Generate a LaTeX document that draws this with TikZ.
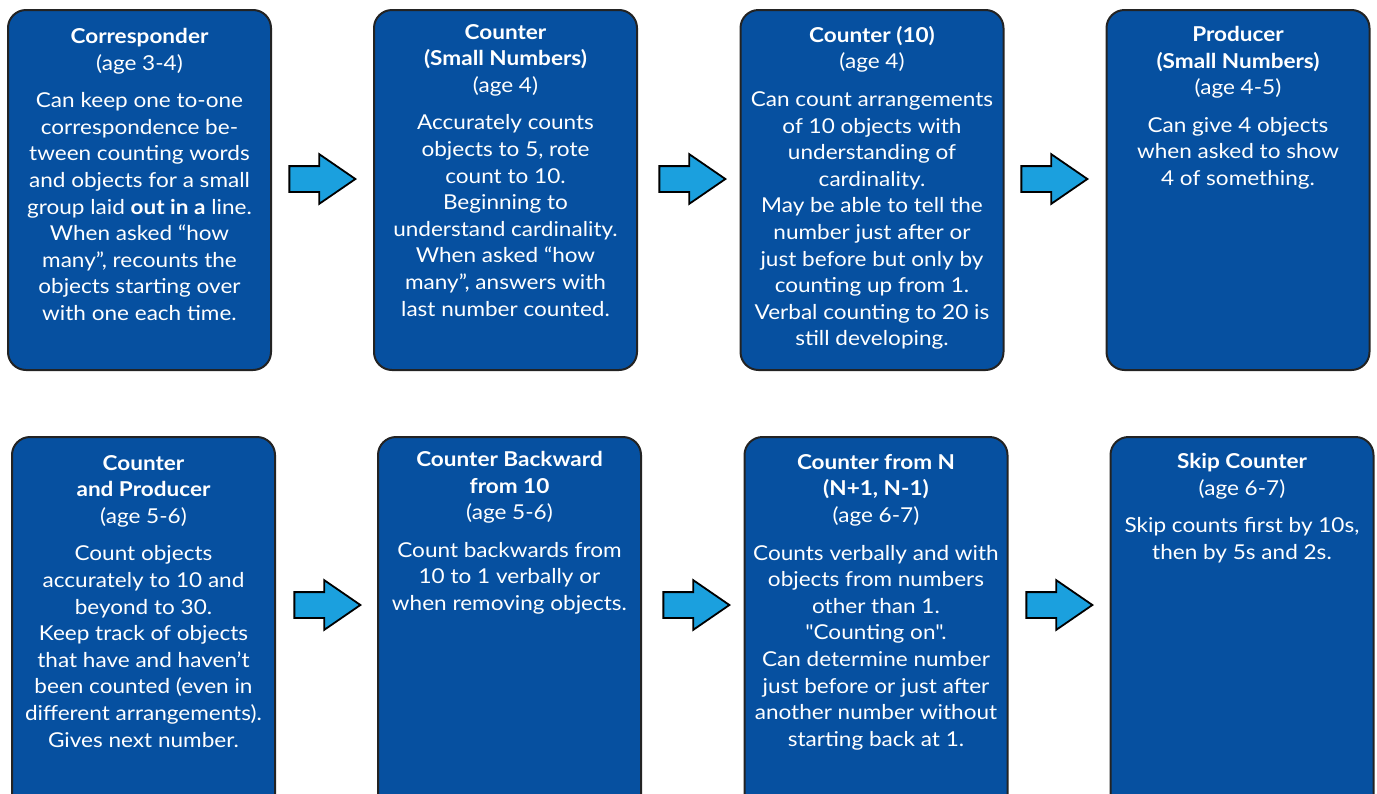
\documentclass[tikz,border=0pt]{standalone}
\usepackage{fontspec}
\setmainfont{Lato}[Ligatures=TeXOff, FakeStretch=1.1]
\usetikzlibrary{shapes.arrows}
\definecolor{boxblue}{RGB}{6,80,160}
\definecolor{arrowblue}{RGB}{27,160,222}
\definecolor{edgegray}{RGB}{35,35,35}
\begin{document}
\begin{tikzpicture}[x=1pt,y=-1pt,
  box/.style={draw=edgegray, line width=2pt, fill=boxblue, rounded corners=18pt, minimum width=263pt, inner sep=0pt},
  txt/.style={text=white, align=center, font=\fontsize{20.5}{26.6}\selectfont, inner sep=0pt, anchor=north},
  blockarrow/.style={single arrow, draw=black, line width=1.8pt, fill=arrowblue, inner xsep=0pt, inner ysep=12pt,
    minimum height=66pt, single arrow head extend=12pt, single arrow tip angle=69, single arrow head indent=0pt}]
\useasboundingbox (0,0) rectangle (1377,793);
% row 1 boxes
\node[box, minimum height=360pt] (b1) at (139.5,190) {};
\node[box, minimum height=360pt] (b2) at (505.5,190) {};
\node[box, minimum height=360pt] (b3) at (872,190) {};
\node[box, minimum height=360pt] (b4) at (1238,190) {};
% row 2 boxes
\node[box, minimum height=393pt] (b5) at (143.5,633.5) {};
\node[box, minimum height=393pt] (b6) at (509.5,633.5) {};
\node[box, minimum height=393pt] (b7) at (876,633.5) {};
\node[box, minimum height=393pt] (b8) at (1242,633.5) {};
% texts
\node[txt] (t1) at (139.5,28) {\textbf{Corresponder}\\(age 3-4)\\[11pt]
Can keep one to-one\\correspondence be-\\tween counting words\\and objects for a small\\group laid \textbf{out in a} line.\\When asked “how\\many”, recounts the\\objects starting over\\with one each time.};
\node[txt] (t2) at (505.5,24) {\textbf{Counter}\\\textbf{(Small Numbers)}\\(age 4)\\[11pt]
Accurately counts\\objects to 5, rote\\count to 10.\\Beginning to\\understand cardinality.\\When asked “how\\many”, answers with\\last number counted.};
\node[txt] (t3) at (872,26) {\textbf{Counter (10)}\\(age 4)\\[11pt]
Can count arrangements\\of 10 objects with\\understanding of\\cardinality.\\May be able to tell the\\number just after or\\just before but only by\\counting up from 1.\\Verbal counting to 20 is\\still developing.};
\node[txt] (t4) at (1238,26) {\textbf{Producer}\\\textbf{(Small Numbers)}\\(age 4-5)\\[11pt]
Can give 4 objects\\when asked to show\\4 of something.};
\node[txt] (t5) at (143.5,455) {\textbf{Counter}\\\textbf{and Producer}\\(age 5-6)\\[11pt]
Count objects\\accurately to 10 and\\beyond to 30.\\Keep track of objects\\that have and haven’t\\been counted (even in\\different arrangements).\\Gives next number.};
\node[txt] (t6) at (509.5,451) {\textbf{Counter Backward}\\\textbf{from 10}\\(age 5-6)\\[11pt]
Count backwards from\\10 to 1 verbally or\\when removing objects.};
\node[txt] (t7) at (876,454) {\textbf{Counter from N}\\\textbf{(N+1, N-1)}\\(age 6-7)\\[11pt]
Counts verbally and with\\objects from numbers\\other than 1.\\"Counting on".\\Can determine number\\just before or just after\\another number without\\starting back at 1.};
\node[txt] (t8) at (1242,453) {\textbf{Skip Counter}\\(age 6-7)\\[11pt]
Skip counts first by 10s,\\then by 5s and 2s.};
% arrows
\node[blockarrow] (a1) at (313,179) {};
\node[blockarrow] (a2) at (683,179) {};
\node[blockarrow] (a3) at (1045,179) {};
\node[blockarrow] (a4) at (318,605) {};
\node[blockarrow] (a5) at (687,605) {};
\node[blockarrow] (a6) at (1050,605) {};
\end{tikzpicture}
\end{document}
